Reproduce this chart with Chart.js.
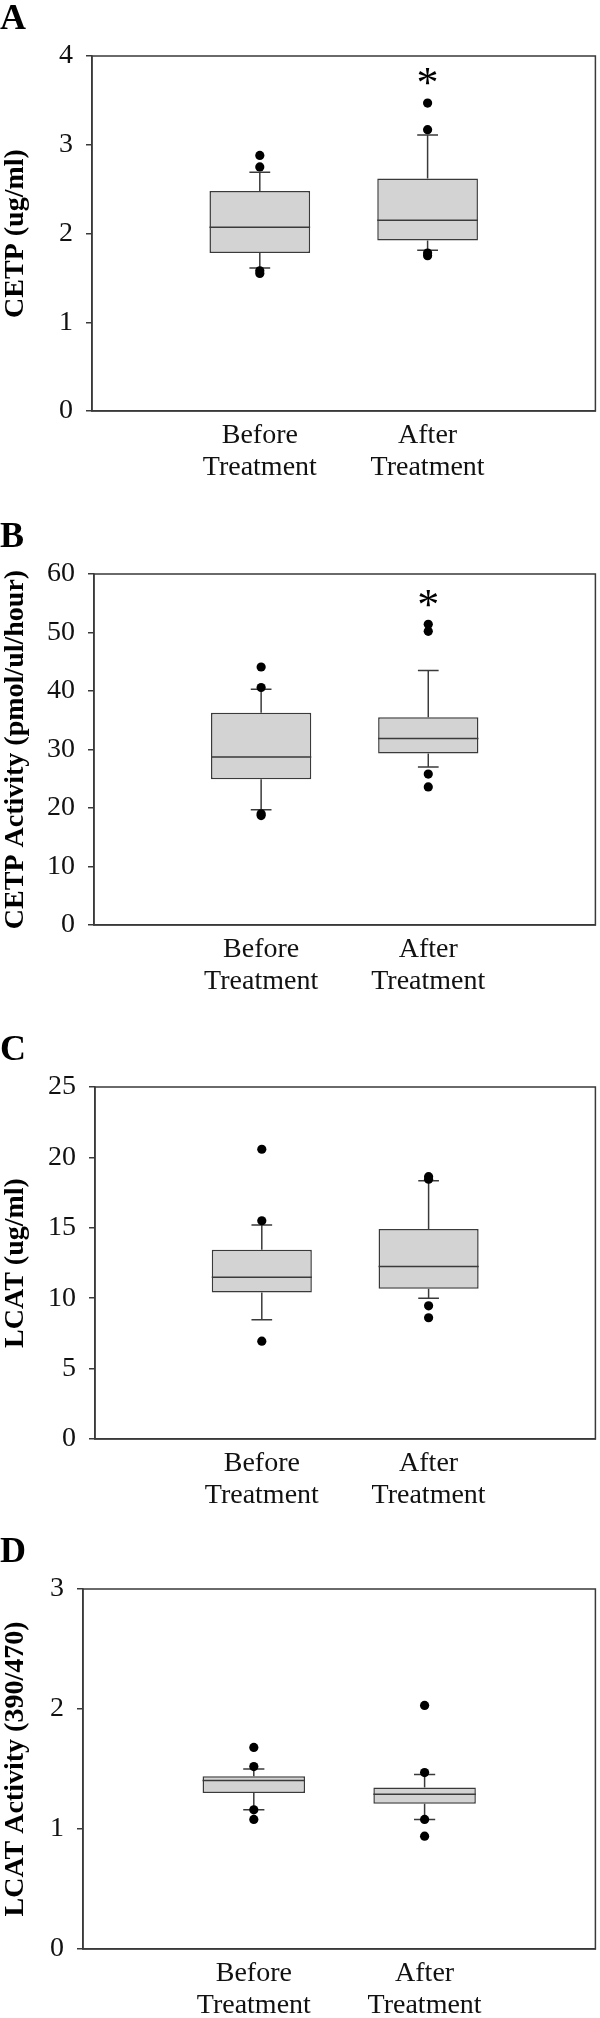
<!DOCTYPE html>
<html>
<head>
<meta charset="utf-8">
<script src="https://cdn.jsdelivr.net/npm/chart.js@4.4.0/dist/chart.umd.min.js"></script>
<style>
  html, body { margin: 0; padding: 0; background: #fff; }
  canvas { position: absolute; left: 0; }
</style>
</head>
<body>
<canvas id="panelA" width="600" height="500" style="top:0px"></canvas>
<canvas id="panelB" width="600" height="510" style="top:500px"></canvas>
<canvas id="panelC" width="600" height="505" style="top:1010px"></canvas>
<canvas id="panelD" width="600" height="503" style="top:1515px"></canvas>
<script>
var groups = ["Before Treatment", "After Treatment"];

// A: CETP (ug/ml)
var cetpLow = [1.61, 1.81];
var cetpQ1 = [1.78, 1.92];
var cetpMed = [2.07, 2.15];
var cetpQ3 = [2.48, 2.62];
var cetpHigh = [2.69, 3.11];
var cetpOut = [[2.88, 2.75, 1.58, 1.55], [3.47, 3.17, 1.78, 1.75]];
var cetpStar = [null, 3.74];

// B: CETP activity (pmol/ul/hour)
var cetpActLow = [19.7, 27.0];
var cetpActQ1 = [24.9, 29.3];
var cetpActMed = [28.7, 31.9];
var cetpActQ3 = [36.3, 35.5];
var cetpActHigh = [40.3, 43.5];
var cetpActOut = [[44.1, 40.6, 19.0, 18.7], [51.4, 50.2, 25.8, 23.6]];
var cetpActStar = [null, 55.3];

// C: LCAT (ug/ml)
var lcatLow = [8.47, 10.0];
var lcatQ1 = [10.41, 10.67];
var lcatMed = [11.48, 12.26];
var lcatQ3 = [13.44, 14.92];
var lcatHigh = [15.2, 18.35];
var lcatOut = [[20.58, 15.5, 6.95], [18.63, 18.45, 9.46, 8.61]];
var lcatStar = [null, null];

// D: LCAT activity (390/470)
var lcatActLow = [1.16, 1.08];
var lcatActQ1 = [1.30, 1.21];
var lcatActMed = [1.405, 1.29];
var lcatActQ3 = [1.44, 1.345];
var lcatActHigh = [1.50, 1.455];
var lcatActOut = [[1.68, 1.52, 1.16, 1.08], [2.03, 1.47, 1.08, 0.94]];
var lcatActStar = [null, null];

var yTicksA = {max: 4, step: 1};
var yTicksB = {max: 60, step: 10};
var yTicksC = {max: 25, step: 5};
var yTicksD = {max: 3, step: 1};

var serif = "'Liberation Serif', 'Times New Roman', serif";
var ink = "#111";
var edge = "#3a3a3a";
var boxFill = "#d3d3d3";
var capHalf = 0.062;
var boxHalf = 0.3;

var frame = {
    id: "frame",
    afterDatasetsDraw: function (chart) {
        var a = chart.chartArea, ctx = chart.ctx;
        ctx.save();
        ctx.strokeStyle = edge;
        ctx.lineWidth = 1.5;
        ctx.strokeRect(a.left, a.top, a.right - a.left, a.bottom - a.top);
        ctx.restore();
    },
};

var stars = {
    id: "stars",
    afterDatasetsDraw: function (chart, args, opts) {
        var ctx = chart.ctx, x = chart.scales.x, y = chart.scales.y;
        ctx.save();
        ctx.fillStyle = "#000";
        ctx.font = "44px " + serif;
        ctx.textAlign = "center";
        ctx.textBaseline = "middle";
        (opts.values || []).forEach(function (v, i) {
            if (v == null) return;
            ctx.fillText("*", x.getPixelForValue(i + 1), y.getPixelForValue(v) + 6);
        });
        ctx.restore();
    },
};

function whiskers(lo, q1, med, q3, hi) {
    var pts = [];
    lo.forEach(function (_, i) {
        var x = i + 1;
        pts.push({x: x, y: q3[i]}, {x: x, y: hi[i]}, {x: x, y: null});
        pts.push({x: x - capHalf, y: hi[i]}, {x: x + capHalf, y: hi[i]}, {x: x, y: null});
        pts.push({x: x, y: q1[i]}, {x: x, y: lo[i]}, {x: x, y: null});
        pts.push({x: x - capHalf, y: lo[i]}, {x: x + capHalf, y: lo[i]}, {x: x, y: null});
        pts.push({x: x - boxHalf, y: med[i]}, {x: x + boxHalf, y: med[i]}, {x: x, y: null});
    });
    return pts;
}

function outliers(out) {
    var pts = [];
    out.forEach(function (list, i) {
        list.forEach(function (v) { pts.push({x: i + 1, y: v}); });
    });
    return pts;
}

function makePanel(id, letter, title, ticks, lo, q1, med, q3, hi, out, star, lay) {
    var canvas = document.getElementById(id);
    new Chart(canvas, {
        type: "bar",
        data: {
            datasets: [{
                type: "scatter",
                data: outliers(out),
                backgroundColor: "#000",
                borderWidth: 0,
                pointRadius: 4.6,
                order: 1,
            }, {
                type: "line",
                data: whiskers(lo, q1, med, q3, hi),
                borderColor: edge,
                borderWidth: 1.5,
                pointRadius: 0,
                spanGaps: false,
                fill: false,
                tension: 0,
                order: 2,
            }, {
                data: q1.map(function (v, i) { return {x: i + 1, y: [v, q3[i]]}; }),
                backgroundColor: boxFill,
                borderColor: edge,
                borderWidth: 1.5,
                borderSkipped: false,
                categoryPercentage: 1,
                barPercentage: 0.6,
                order: 3,
            }],
        },
        options: {
            responsive: false,
            animation: false,
            events: [],
            layout: {padding: {left: 0, right: 2, top: 0, bottom: 0}},
            plugins: {
                legend: {display: false},
                tooltip: {enabled: false},
                title: {
                    display: true,
                    text: letter,
                    align: "start",
                    color: "#000",
                    font: {family: serif, size: 36, weight: "bold", lineHeight: 1},
                    padding: {top: lay.top - 54, bottom: 18},
                },
                stars: {values: star},
            },
            scales: {
                x: {
                    type: "linear",
                    min: 0,
                    max: groups.length + 1,
                    offset: false,
                    afterBuildTicks: function (s) {
                        s.ticks = groups.map(function (_, i) { return {value: i + 1}; });
                    },
                    ticks: {
                        color: ink,
                        padding: 9,
                        autoSkip: false,
                        maxRotation: 0,
                        font: {family: serif, size: 28, lineHeight: 1.13},
                        callback: function (v) {
                            var g = groups[Math.round(v) - 1];
                            return g ? g.split(" ") : "";
                        },
                    },
                    grid: {display: false, drawTicks: false},
                    border: {display: true, color: edge, width: 1.5},
                    afterFit: function (s) { s.height = lay.height - lay.bottom; },
                },
                y: {
                    min: 0,
                    max: ticks.max,
                    ticks: {
                        stepSize: ticks.step,
                        color: ink,
                        padding: 13,
                        font: {family: serif, size: 28},
                    },
                    grid: {
                        display: true,
                        drawOnChartArea: false,
                        drawTicks: true,
                        tickLength: 6,
                        color: edge,
                        lineWidth: 1.5,
                    },
                    border: {display: true, color: edge, width: 1.5},
                    title: {
                        display: true,
                        text: title,
                        color: "#000",
                        font: {family: serif, size: 28, weight: "bold", lineHeight: 1.1},
                        padding: {top: 0, bottom: 0},
                    },
                    afterFit: function (s) { s.width = lay.left; },
                },
            },
        },
        plugins: [frame, stars],
    });
}

makePanel("panelA", "A", "CETP (ug/ml)", yTicksA,
    cetpLow, cetpQ1, cetpMed, cetpQ3, cetpHigh, cetpOut, cetpStar,
    {height: 500, top: 56, bottom: 411, left: 92});
makePanel("panelB", "B", "CETP Activity (pmol/ul/hour)", yTicksB,
    cetpActLow, cetpActQ1, cetpActMed, cetpActQ3, cetpActHigh, cetpActOut, cetpActStar,
    {height: 510, top: 74, bottom: 425, left: 94});
makePanel("panelC", "C", "LCAT (ug/ml)", yTicksC,
    lcatLow, lcatQ1, lcatMed, lcatQ3, lcatHigh, lcatOut, lcatStar,
    {height: 505, top: 77, bottom: 429, left: 95});
makePanel("panelD", "D", "LCAT Activity (390/470)", yTicksD,
    lcatActLow, lcatActQ1, lcatActMed, lcatActQ3, lcatActHigh, lcatActOut, lcatActStar,
    {height: 503, top: 74, bottom: 434, left: 83});
</script>
</body>
</html>
